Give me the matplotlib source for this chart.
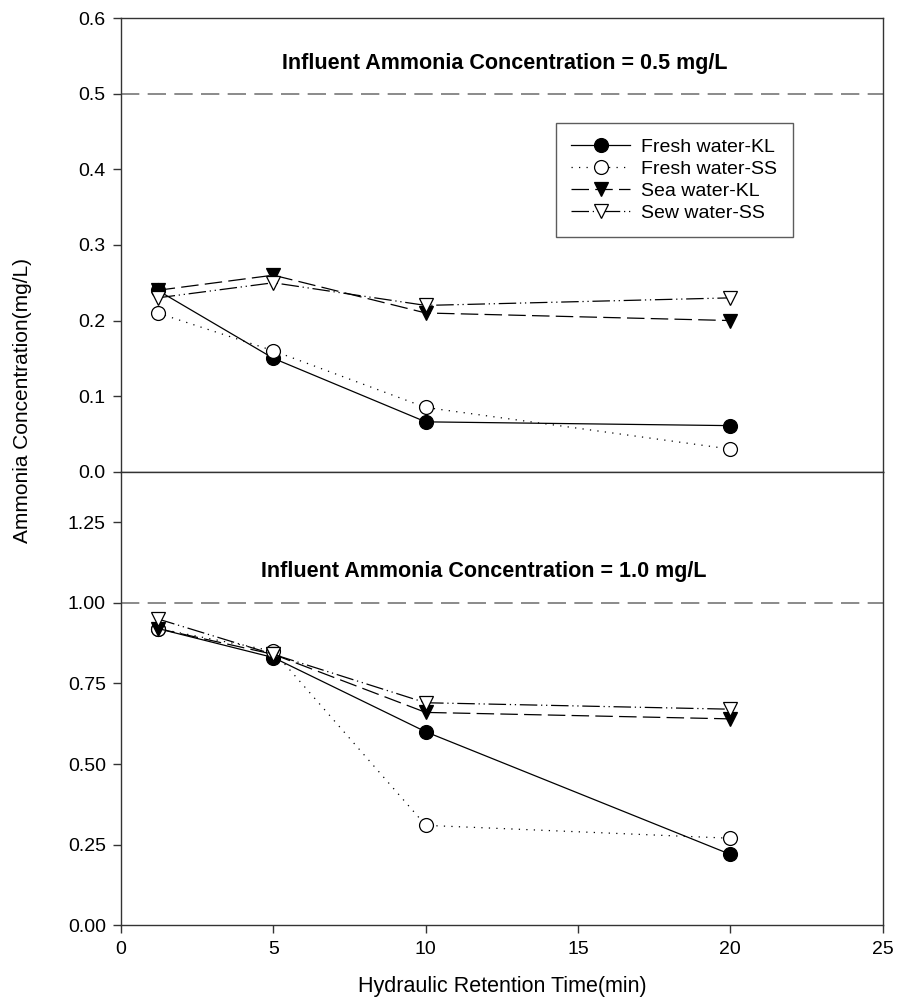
import matplotlib
matplotlib.use("Agg")
import matplotlib.pyplot as plt

plt.rcParams['font.family'] = ['Liberation Sans', 'DejaVu Sans']

# hydraulic retention time (min)
hrt = [1.2, 5, 10, 20]

# influent 0.5 mg/L
fresh_kl_05 = [0.24, 0.15, 0.066, 0.061]
fresh_ss_05 = [0.21, 0.16, 0.085, 0.03]
sea_kl_05 = [0.24, 0.26, 0.21, 0.20]
sew_ss_05 = [0.23, 0.25, 0.22, 0.23]

# influent 1.0 mg/L
fresh_kl_10 = [0.92, 0.83, 0.60, 0.22]
fresh_ss_10 = [0.92, 0.85, 0.31, 0.27]
sea_kl_10 = [0.92, 0.84, 0.66, 0.64]
sew_ss_10 = [0.95, 0.84, 0.69, 0.67]

labels = ["Fresh water-KL", "Fresh water-SS", "Sea water-KL", "Sew water-SS"]
top_ticks = [0.0, 0.1, 0.2, 0.3, 0.4, 0.5, 0.6]
bottom_ticks = [0.0, 0.25, 0.5, 0.75, 1.0, 1.25]
x_ticks = [0, 5, 10, 15, 20, 25]

styles = [
    dict(marker='o', mfc='black', ls='-'),
    dict(marker='o', mfc='white', ls=(0, (1, 5))),
    dict(marker='v', mfc='black', ls=(0, (14, 5))),
    dict(marker='v', mfc='white', ls=(0, (14, 3, 1, 3, 1, 3))),
]

fig = plt.figure(figsize=(8.97, 10.08), dpi=100)
ax1 = fig.add_axes([0.135, 0.532, 0.849, 0.450])
ax2 = fig.add_axes([0.135, 0.082, 0.849, 0.450])

spine_c = '#333333'


def draw(ax, series, ref, ylim, yticks, fmt, title, title_x, title_y):
    for s, ys, lab in zip(styles, series, labels):
        ax.plot(hrt, ys, color='black', lw=0.9, ls=s['ls'], marker=s['marker'],
                ms=10, mfc=s['mfc'], mec='black', mew=0.9, label=lab)
    ax.axhline(ref, color='#777777', lw=1.2, ls=(0, (11, 5)), zorder=0)
    ax.set_xlim(0, 25)
    ax.set_ylim(*ylim)
    ax.set_yticks(yticks)
    ax.set_yticklabels([fmt.format(v) for v in yticks])
    ax.text(title_x, title_y, title, fontsize=15.5, fontweight='bold',
            ha='center', va='center', transform=ax.transAxes)
    for sp in ax.spines.values():
        sp.set_color(spine_c)
        sp.set_linewidth(1.0)
    ax.tick_params(direction='out', length=6, width=1.0, color=spine_c,
                   labelsize=14, pad=5)


draw(ax1, [fresh_kl_05, fresh_ss_05, sea_kl_05, sew_ss_05], 0.5, (0, 0.6),
     top_ticks, "{:.1f}", "Influent Ammonia Concentration = 0.5 mg/L", 0.504, 0.90)
draw(ax2, [fresh_kl_10, fresh_ss_10, sea_kl_10, sew_ss_10], 1.0, (0, 1.406),
     bottom_ticks, "{:.2f}", "Influent Ammonia Concentration = 1.0 mg/L", 0.476, 0.78)

ax1.tick_params(axis='x', bottom=False, labelbottom=False)
ax2.set_xticks(x_ticks)
ax2.set_xticklabels([str(v) for v in x_ticks])

leg = ax1.legend(loc='upper left', bbox_to_anchor=(0.571, 0.769), fontsize=14,
                 frameon=True, fancybox=False, handlelength=3.0, borderpad=0.8,
                 labelspacing=0.22, handletextpad=0.6, borderaxespad=0)
leg.get_frame().set_edgecolor(spine_c)
leg.get_frame().set_linewidth(1.0)

fig.text(0.025, 0.603, "Ammonia Concentration(mg/L)", rotation=90,
         ha='center', va='center', fontsize=15)
fig.text(0.56, 0.021, "Hydraulic Retention Time(min)", ha='center', va='center',
         fontsize=15.5)

fig.savefig("out.png", dpi=100)
